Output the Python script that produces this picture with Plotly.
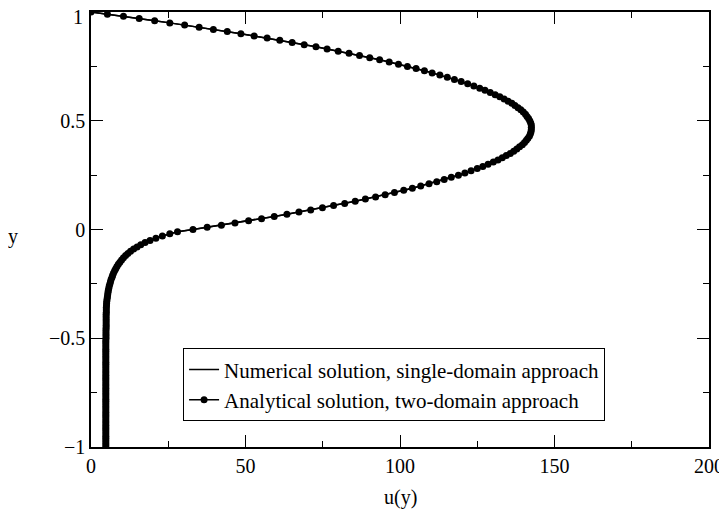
import plotly.graph_objects as go

# y positions (uniform grid, step 0.01, from -1 to 1)
y_lower = [round(-1.0 + 0.01 * i, 2) for i in range(100)]   # -1.00 ... -0.01
y_upper = [round(0.01 * i, 2) for i in range(101)]           # 0.00 ... 1.00

# u(y) in the porous (lower) region, y = -1.00 ... -0.01
u_lower = [
    4.8, 4.8, 4.8, 4.8, 4.8, 4.8, 4.8, 4.8, 4.8, 4.8,
    4.8, 4.8, 4.8, 4.8, 4.8, 4.8, 4.8, 4.8, 4.8, 4.8,
    4.8, 4.8, 4.8, 4.8, 4.8, 4.8, 4.8, 4.8, 4.8, 4.8,
    4.8, 4.8, 4.8, 4.8, 4.8, 4.8, 4.8, 4.8, 4.8, 4.8,
    4.8, 4.8, 4.8, 4.8, 4.8, 4.8, 4.8, 4.8, 4.8, 4.8,   # -0.51
    4.85, 4.85, 4.85, 4.85, 4.85, 4.9, 4.9, 4.9, 4.9, 4.9,  # -0.50 ... -0.41
    4.9, 4.9, 4.95, 4.95, 4.95, 5.0, 5.05, 5.1, 5.2, 5.3,   # -0.40 ... -0.31
    5.4, 5.5, 5.6, 5.75, 5.9, 6.1, 6.3, 6.5, 6.8, 7.0,      # -0.30 ... -0.21
    7.3, 7.65, 8.0, 8.4, 8.85, 9.35, 9.9, 10.5, 11.2, 11.95, # -0.20 ... -0.11
    12.8, 13.8, 14.9, 16.1, 17.5, 19.1, 21.0, 23.1, 25.5, 28.0  # -0.10 ... -0.01
]

# u(y) in the free-flow (upper) region, y = 0.00 ... 1.00
u_upper = [
    33.0, 37.6, 42.2, 46.6, 51.0, 55.2, 59.3, 63.4, 67.3, 71.1,
    74.9, 78.5, 82.1, 85.5, 88.8, 92.1, 95.2, 98.2, 101.2, 104.0,
    106.7, 109.4, 111.9, 114.3, 116.6, 118.9, 121.0, 123.0, 125.0, 126.8,
    128.5, 130.2, 131.7, 133.1, 134.4, 135.7, 136.8, 137.8, 138.7, 139.6,
    140.3, 140.9, 141.4, 141.9, 142.2, 142.4, 142.5, 142.5, 142.5, 142.3,
    142.0, 141.6, 141.1, 140.6, 139.9, 139.1, 138.2, 137.2, 136.2, 135.0,
    133.7, 132.3, 130.8, 129.2, 127.5, 125.8, 123.9, 121.9, 119.8, 117.6,
    115.3, 112.9, 110.4, 107.9, 105.2, 102.4, 99.5, 96.5, 93.4, 90.2,
    86.9, 83.5, 80.0, 76.4, 72.8, 69.0, 65.1, 61.1, 57.0, 52.8,
    48.5, 44.1, 39.6, 35.0, 30.3, 25.5, 20.6, 15.6, 10.5, 5.3,
    0.0
]

x_ticks = [0, 50, 100, 150, 200]
y_ticks = [-1, -0.5, 0, 0.5, 1]
y_tick_labels = ["\u22121", "\u22120.5", "0", "0.5", "1"]

y_vals = y_lower + y_upper
u_vals = u_lower + u_upper

FONT = "Liberation Serif"

fig = go.Figure()
fig.add_trace(go.Scatter(
    x=u_vals, y=y_vals, mode="lines",
    line=dict(color="black", width=1.5),
    name="Numerical solution, single-domain approach",
))
fig.add_trace(go.Scatter(
    x=u_vals, y=y_vals, mode="lines+markers",
    line=dict(color="black", width=1.5),
    marker=dict(color="black", size=7),
    name="Analytical solution, two-domain approach",
))

axis_common = dict(
    showgrid=False, zeroline=False, automargin=False,
    ticklabeloverflow="allow",
    showline=True, linecolor="black", linewidth=1.5,
    mirror="allticks", ticks="inside", ticklen=12, tickwidth=1.2,
    tickcolor="black",
    tickfont=dict(family=FONT, size=20, color="black"),
)

fig.update_xaxes(
    range=[0, 200], tickvals=x_ticks,
    minor=dict(ticks="inside", ticklen=6, tickwidth=1.2, tickcolor="black", dtick=25, tick0=0),
    **axis_common,
)
# the top label ("1") is drawn as an annotation nudged slightly down so it is not clipped
fig.update_yaxes(
    range=[-1, 1], tickvals=y_ticks,
    ticktext=y_tick_labels[:-1] + [""],
    minor=dict(ticks="inside", ticklen=6, tickwidth=1.2, tickcolor="black", dtick=0.25, tick0=0),
    **axis_common,
)
fig.add_annotation(
    text=y_tick_labels[-1], xref="paper", yref="y", x=0, y=y_ticks[-1],
    xanchor="right", yanchor="middle", xshift=-8, yshift=-4.5,
    borderpad=0, borderwidth=0,
    showarrow=False, font=dict(family=FONT, size=20, color="black"),
)

fig.add_annotation(
    text="u(y)", xref="paper", yref="paper", x=0.5, y=-0.115,
    xanchor="center", yanchor="middle", showarrow=False,
    font=dict(family=FONT, size=20, color="black"),
)
fig.add_annotation(
    text="y", xref="paper", yref="paper", x=-0.126, y=0.485,
    xanchor="center", yanchor="middle", showarrow=False,
    font=dict(family=FONT, size=20, color="black"),
)

fig.update_layout(
    width=719, height=504,
    margin=dict(l=83, r=18, t=4, b=65),
    paper_bgcolor="white", plot_bgcolor="white",
    showlegend=True,
    legend=dict(
        x=0.149, y=0.227, xanchor="left", yanchor="top",
        bgcolor="white", bordercolor="black", borderwidth=1,
        font=dict(family=FONT, size=21, color="black"),
        itemwidth=30, tracegroupgap=0,
    ),
)

fig.write_html("out.html")
